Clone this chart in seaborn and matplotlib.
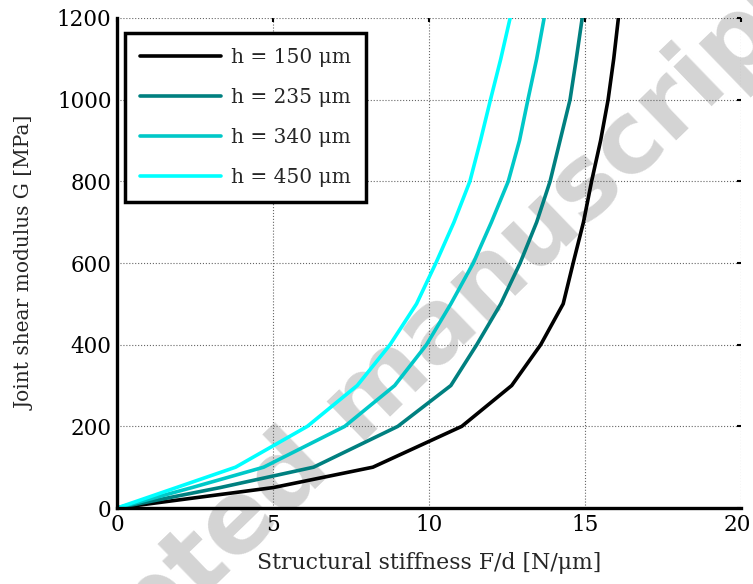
import matplotlib
matplotlib.use("Agg")
import matplotlib.pyplot as plt
import matplotlib.transforms as mtransforms
import seaborn as sns
import pandas as pd

# G values [MPa] at which the curves were sampled
G = [0, 50, 100, 200, 300, 400, 500, 600, 700, 800, 900, 1000, 1100, 1200]

# structural stiffness F/d [N/um] for each joint thickness
k_150 = [0, 5.0, 8.2, 11.05, 12.65, 13.58, 14.3, 14.62, 14.95, 15.21, 15.5, 15.74, 15.92, 16.07]
k_235 = [0, 3.3, 6.3, 9.0, 10.7, 11.53, 12.3, 12.92, 13.45, 13.88, 14.2, 14.52, 14.72, 14.91]
k_340 = [0, 2.4, 4.7, 7.3, 8.9, 9.92, 10.7, 11.42, 12.0, 12.54, 12.9, 13.17, 13.45, 13.69]
k_450 = [0, 1.9, 3.8, 6.1, 7.7, 8.75, 9.6, 10.22, 10.8, 11.31, 11.65, 11.97, 12.3, 12.6]

labels = ["h = 150 μm", "h = 235 μm", "h = 340 μm", "h = 450 μm"]
colors = ["#000000", "#008080", "#00c8c8", "#00ffff"]

rows = []
for lab, ks in zip(labels, [k_150, k_235, k_340, k_450]):
    for k, g in zip(ks, G):
        rows.append({"k": k, "G": g, "h": lab})
df = pd.DataFrame(rows)

sns.set_theme(style="white")
plt.rcParams["font.family"] = ["DejaVu Serif"]

fig = plt.figure(figsize=(7.53, 5.84), dpi=100)
ax = fig.add_axes([0.1554, 0.1301, 0.8287, 0.8391])
ax.set_facecolor("none")

# watermark behind the plot
fig.text(0.49, 0.315, "Accepted manuscript", rotation=44, rotation_mode="anchor",
         ha="center", va="center", fontsize=72, fontweight="bold",
         family="DejaVu Sans", color="#d4d4d4", zorder=-5)

sns.lineplot(data=df, x="k", y="G", hue="h", palette=colors, hue_order=labels,
             estimator=None, sort=False, linewidth=2.6, ax=ax, zorder=3)

ax.set_xlim(0, 20)
ax.set_ylim(0, 1200)
ax.set_xticks([0, 5, 10, 15, 20])
ax.set_yticks(range(0, 1201, 200))
ax.grid(True, linestyle=":", color="#666666", linewidth=0.8)

for s in ["top", "right"]:
    ax.spines[s].set_visible(False)
for s in ["left", "bottom"]:
    ax.spines[s].set_color("black")
    ax.spines[s].set_linewidth(2.4)
    ax.spines[s].set_zorder(4)

ax.tick_params(direction="in", length=5, width=2, colors="black",
               labelsize=15.5, pad=4, top=True, right=True)
# smaller ticks on the top and right edges
for t in ax.xaxis.get_major_ticks() + ax.yaxis.get_major_ticks():
    t.tick2line.set_markersize(3)
    t.tick2line.set_markeredgewidth(1.5)

# nudge the last x label so it stays inside the figure
last = ax.get_xticklabels()[-1]
last.set_transform(last.get_transform() +
                   mtransforms.ScaledTranslation(-3 / 72, 0, fig.dpi_scale_trans))

ax.set_xlabel("Structural stiffness F/d [N/μm]", fontsize=15.8, labelpad=12)
ax.set_ylabel("Joint shear modulus G [MPa]", fontsize=14.5, labelpad=16)

leg = ax.legend(loc="upper left", bbox_to_anchor=(0.013, 0.97), borderaxespad=0,
                fontsize=14.5, handlelength=4, labelspacing=1.05, frameon=True,
                fancybox=False, framealpha=1, edgecolor="black", handletextpad=0.5,
                borderpad=0.75)
leg.get_frame().set_linewidth(2.5)

fig.savefig("out.png", dpi=100)
